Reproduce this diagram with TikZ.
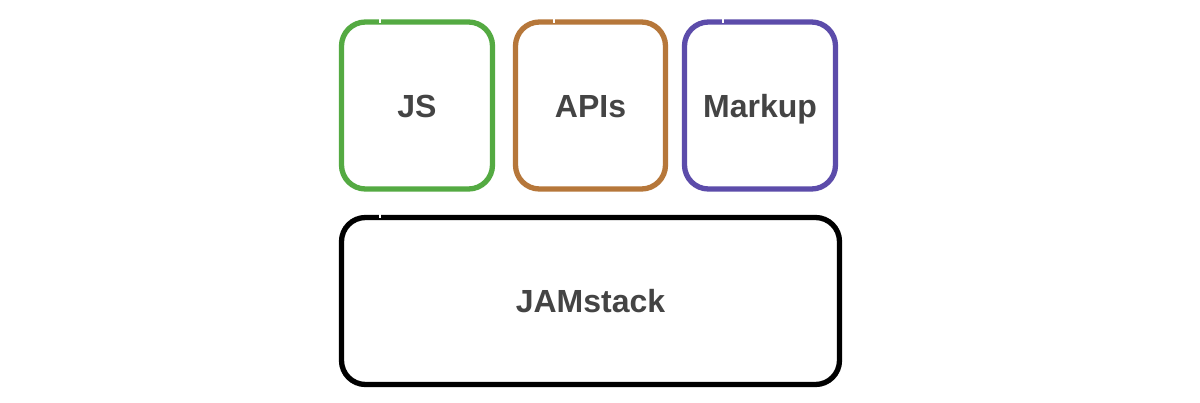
\documentclass[tikz,border=0pt]{standalone}
\usepackage{fontspec}
\setmainfont{Liberation Sans}
\definecolor{jsgreen}{RGB}{84,170,66}
\definecolor{apibrown}{RGB}{182,119,58}
\definecolor{mkpurple}{RGB}{92,76,170}
\definecolor{txt}{RGB}{68,68,68}
\tikzset{
  sketchbox/.style={draw=#1, line width=5.3pt, rounded corners=24pt,
    minimum height=167pt, text=txt, text height=23pt, text depth=-4pt,
    font=\fontsize{32}{36}\selectfont\bfseries, inner sep=0pt},
  gapmark/.style={white, line width=1.6pt}
}
\begin{document}
\begin{tikzpicture}[x=1pt,y=-1pt]
\useasboundingbox[fill=white] (0,0) rectangle (1200,402);
\node[sketchbox=jsgreen, minimum width=151pt] (js) at (417,105.5) {JS};
\node[sketchbox=apibrown, minimum width=150pt] (api) at (590.5,105.5) {APIs};
\node[sketchbox=mkpurple, minimum width=151pt] (mk) at (760,105.5) {Markup};
\node[sketchbox=black, minimum width=498pt] (jam) at (590.5,301) {JAMstack};
\draw[gapmark] ([xshift=41pt,yshift=3.5pt]js.north west) -- ([xshift=41pt,yshift=-3.5pt]js.north west);
\draw[gapmark] ([xshift=41pt,yshift=3.5pt]api.north west) -- ([xshift=41pt,yshift=-3.5pt]api.north west);
\draw[gapmark] ([xshift=41pt,yshift=3.5pt]mk.north west) -- ([xshift=41pt,yshift=-3.5pt]mk.north west);
\draw[gapmark] ([xshift=41pt,yshift=3.5pt]jam.north west) -- ([xshift=41pt,yshift=-3.5pt]jam.north west);
\end{tikzpicture}
\end{document}
